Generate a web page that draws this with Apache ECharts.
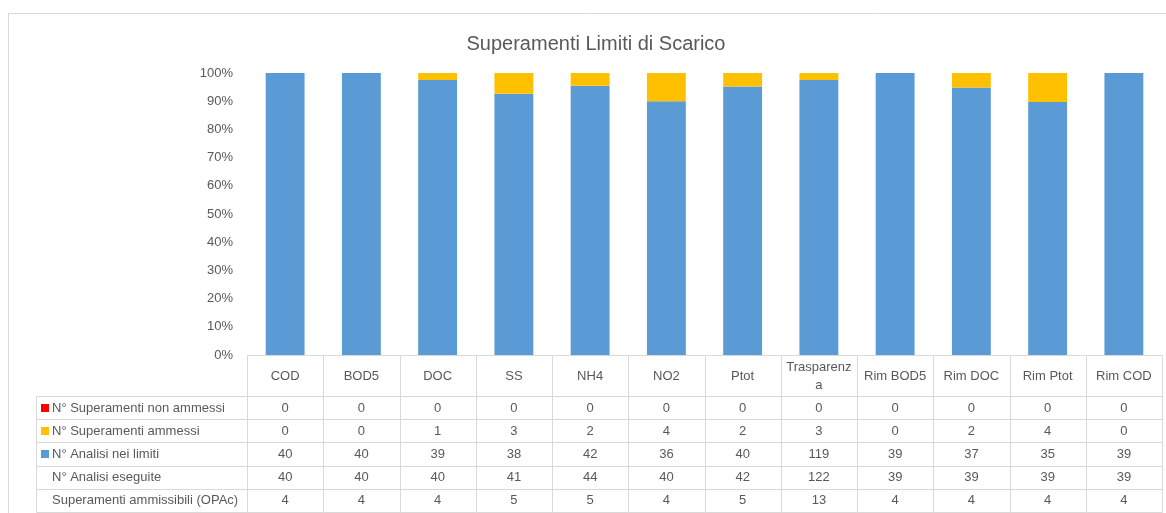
<!DOCTYPE html>
<html>
<head>
<meta charset="utf-8">
<script src="https://cdn.jsdelivr.net/npm/echarts@6/dist/echarts.min.js"></script>
<style>
html,body{margin:0;padding:0;background:#fff;}
#main{width:1166px;height:513px;}
</style>
</head>
<body>
<div id="main"></div>
<script>
const categories = ['COD','BOD5','DOC','SS','NH4','NO2','Ptot','Trasparenza','Rim BOD5','Rim DOC','Rim Ptot','Rim COD'];
const superamentiNonAmmessi = [0,0,0,0,0,0,0,0,0,0,0,0];
const superamentiAmmessi = [0,0,1,3,2,4,2,3,0,2,4,0];
const analisiNeiLimiti = [40,40,39,38,42,36,40,119,39,37,35,39];
const analisiEseguite = [40,40,40,41,44,40,42,122,39,39,39,39];
const superamentiAmmissibili = [4,4,4,5,5,4,5,13,4,4,4,4];
const rowLabels = ['N° Superamenti non ammessi','N° Superamenti ammessi','N° Analisi nei limiti','N° Analisi eseguite','Superamenti ammissibili (OPAc)'];
const yTicks = [0,10,20,30,40,50,60,70,80,90,100];

const COL_RED = '#FF0000', COL_ORANGE = '#FFC000', COL_BLUE = '#5B9BD5';
const TXT = '#595959', LINE = '#D9D9D9';
const FONT = 'Liberation Sans';
const rowMarkers = [COL_RED, COL_ORANGE, COL_BLUE, null, null];
const tableRows = [superamentiNonAmmessi, superamentiAmmessi, analisiNeiLimiti, analisiEseguite, superamentiAmmissibili];

const totals = categories.map((c,i)=>superamentiNonAmmessi[i]+superamentiAmmessi[i]+analisiNeiLimiti[i]);
const pct = arr => arr.map((v,i)=> totals[i] ? v/totals[i]*100 : 0);

// table cells: [col, row]; col -1 = label column, row 0 = header
const tableData = [];
for (let c = 0; c < categories.length; c++) tableData.push([c, 0]);
for (let r = 1; r <= rowLabels.length; r++) {
  tableData.push([-1, r]);
  for (let c = 0; c < categories.length; c++) tableData.push([c, r]);
}

const HEADER_H = 41, LABEL_W = 211;

function renderCell(params, api) {
  const cs = params.coordSys;
  const col = api.value(0), row = api.value(1);
  const rowH = (cs.height - HEADER_H) / rowLabels.length;
  let x0, w;
  if (col < 0) { x0 = cs.x - LABEL_W; w = LABEL_W; }
  else {
    w = api.size([1, 0])[0];
    x0 = api.coord([col, 0])[0] - w / 2;
  }
  const y0 = row === 0 ? cs.y : cs.y + HEADER_H + (row - 1) * rowH;
  const h = row === 0 ? HEADER_H : rowH;
  const xa = Math.round(x0), xb = Math.round(x0 + w);
  const ya = Math.round(y0), yb = Math.round(y0 + h);
  const children = [{
    type: 'rect',
    shape: { x: xa + 0.5, y: ya + 0.5, width: xb - xa, height: yb - ya },
    style: { fill: 'none', stroke: LINE, lineWidth: 1 }
  }];
  if (col < 0) {
    const mk = rowMarkers[row - 1];
    if (mk) children.push({ type: 'rect', shape: { x: x0 + 5, y: Math.round(y0 + h / 2 - 4), width: 8, height: 8 }, style: { fill: mk } });
    children.push({ type: 'text', x: x0 + 16, y: y0 + h / 2 + 0.5,
      style: { text: rowLabels[row - 1], fill: TXT, font: '13px ' + FONT, textAlign: 'left', textVerticalAlign: 'middle' } });
  } else {
    const txt = row === 0 ? categories[col] : String(tableRows[row - 1][col]);
    children.push({ type: 'text', x: x0 + w / 2, y: y0 + h / 2 + 0.5,
      style: { text: txt, fill: TXT, font: '13px ' + FONT, textAlign: 'center', textVerticalAlign: 'middle',
        width: row === 0 ? 66 : undefined, overflow: row === 0 ? 'breakAll' : undefined, lineHeight: 18 } });
  }
  return { type: 'group', children };
}

const chart = echarts.init(document.getElementById('main'), null, { renderer: 'canvas' });
chart.setOption({
  animation: false,
  backgroundColor: '#fff',
  title: {
    text: 'Superamenti Limiti di Scarico',
    left: 591, top: 29, textAlign: 'center',
    textStyle: { color: TXT, fontSize: 20, fontWeight: 'normal', fontFamily: FONT }
  },
  graphic: [{
    type: 'rect', shape: { x: 8.5, y: 13.5, width: 1180, height: 520 },
    style: { fill: 'none', stroke: LINE, lineWidth: 1 }, silent: true
  }],
  grid: [
    { left: 247, right: 4, top: 73, bottom: 158 },
    { left: 247, right: 4, top: 355, bottom: 1 }
  ],
  xAxis: [
    { type: 'category', gridIndex: 0, data: categories, axisLine: { show: false }, axisTick: { show: false }, axisLabel: { show: false } },
    { type: 'category', gridIndex: 1, data: categories, show: false }
  ],
  yAxis: [
    { type: 'value', gridIndex: 0, min: 0, max: 100, interval: 10,
      axisLine: { show: false }, axisTick: { show: false }, splitLine: { show: false },
      axisLabel: { formatter: v => yTicks.includes(v) ? v + '%' : '', color: TXT, fontSize: 13, fontFamily: FONT, margin: 14 } },
    { type: 'value', gridIndex: 1, min: 0, max: 1, show: false }
  ],
  series: [
    { name: 'N° Analisi nei limiti', type: 'bar', stack: 'tot', data: pct(analisiNeiLimiti), itemStyle: { color: COL_BLUE }, barWidth: '51%' },
    { name: 'N° Superamenti ammessi', type: 'bar', stack: 'tot', data: pct(superamentiAmmessi), itemStyle: { color: COL_ORANGE }, barWidth: '51%' },
    { name: 'N° Superamenti non ammessi', type: 'bar', stack: 'tot', data: pct(superamentiNonAmmessi), itemStyle: { color: COL_RED }, barWidth: '51%' },
    { type: 'custom', xAxisIndex: 1, yAxisIndex: 1, clip: false, silent: true, renderItem: renderCell, data: tableData }
  ]
});
</script>
</body>
</html>
